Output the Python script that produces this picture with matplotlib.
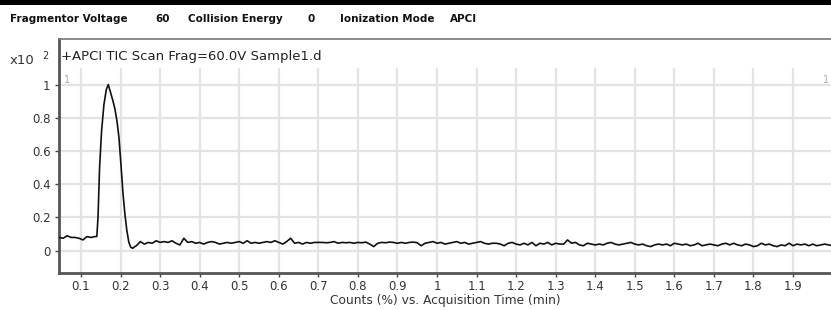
import numpy as np
import matplotlib
matplotlib.use("Agg")
import matplotlib.pyplot as plt
from matplotlib.patches import Rectangle

# --- data (counts x10^2 vs minutes) ---
peak_time = [0.045, 0.055, 0.065, 0.075, 0.085, 0.095, 0.105, 0.115, 0.125, 0.135,
             0.140, 0.143, 0.147, 0.152, 0.158, 0.164, 0.169, 0.175, 0.181, 0.186,
             0.191, 0.196, 0.201, 0.206, 0.211, 0.216, 0.221, 0.226, 0.231, 0.236]
peak_counts = [0.08, 0.075, 0.09, 0.08, 0.08, 0.075, 0.065, 0.085, 0.08, 0.085,
               0.086, 0.20, 0.50, 0.72, 0.88, 0.97, 1.00, 0.95, 0.90, 0.85,
               0.78, 0.68, 0.52, 0.35, 0.22, 0.12, 0.05, 0.02, 0.015, 0.025]

base_start, base_step = 0.24, 0.01
base_counts = [
    0.030, 0.055, 0.040, 0.050, 0.045, 0.060, 0.050, 0.055, 0.050, 0.060,   # 0.24-0.33
    0.045, 0.035, 0.075, 0.050, 0.055, 0.045, 0.050, 0.040, 0.050, 0.055,   # 0.34-0.43
    0.050, 0.040, 0.045, 0.050, 0.045, 0.050, 0.055, 0.045, 0.060, 0.045,   # 0.44-0.53
    0.050, 0.045, 0.050, 0.055, 0.050, 0.060, 0.050, 0.040, 0.055, 0.075,   # 0.54-0.63
    0.045, 0.050, 0.040, 0.050, 0.045, 0.050, 0.050, 0.050, 0.048, 0.050,   # 0.64-0.73
    0.055, 0.045, 0.050, 0.048, 0.050, 0.045, 0.050, 0.048, 0.052, 0.040,   # 0.74-0.83
    0.025, 0.045, 0.050, 0.048, 0.052, 0.050, 0.045, 0.050, 0.045, 0.050,   # 0.84-0.93
    0.052, 0.048, 0.030, 0.045, 0.050, 0.055, 0.045, 0.050, 0.040, 0.045,   # 0.94-1.03
    0.050, 0.055, 0.045, 0.050, 0.040, 0.045, 0.050, 0.055, 0.045, 0.040,   # 1.04-1.13
    0.045, 0.045, 0.040, 0.030, 0.045, 0.050, 0.040, 0.035, 0.045, 0.035,   # 1.14-1.23
    0.050, 0.030, 0.045, 0.040, 0.050, 0.035, 0.045, 0.040, 0.040, 0.065,   # 1.24-1.33
    0.045, 0.050, 0.035, 0.030, 0.045, 0.040, 0.035, 0.040, 0.035, 0.045,   # 1.34-1.43
    0.050, 0.040, 0.035, 0.040, 0.045, 0.050, 0.040, 0.035, 0.040, 0.030,   # 1.44-1.53
    0.025, 0.035, 0.040, 0.035, 0.040, 0.030, 0.045, 0.040, 0.035, 0.040,   # 1.54-1.63
    0.030, 0.035, 0.045, 0.030, 0.035, 0.040, 0.035, 0.030, 0.040, 0.045,   # 1.64-1.73
    0.035, 0.045, 0.035, 0.030, 0.040, 0.035, 0.025, 0.030, 0.045, 0.035,   # 1.74-1.83
    0.040, 0.030, 0.025, 0.035, 0.030, 0.045, 0.030, 0.040, 0.035, 0.040,   # 1.84-1.93
    0.030, 0.040, 0.030, 0.035, 0.040, 0.035, 0.030,                        # 1.94-2.00
]

x_ticks = [0.1, 0.2, 0.3, 0.4, 0.5, 0.6, 0.7, 0.8, 0.9, 1.0,
           1.1, 1.2, 1.3, 1.4, 1.5, 1.6, 1.7, 1.8, 1.9]
x_tick_labels = ["0.1", "0.2", "0.3", "0.4", "0.5", "0.6", "0.7", "0.8", "0.9", "1",
                 "1.1", "1.2", "1.3", "1.4", "1.5", "1.6", "1.7", "1.8", "1.9"]
y_ticks = [0, 0.2, 0.4, 0.6, 0.8, 1.0]
y_tick_labels = ["0", "0.2", "0.4", "0.6", "0.8", "1"]

header_items = [("Fragmentor Voltage", 10), ("60", 155), ("Collision Energy", 188),
                ("0", 308), ("Ionization Mode", 340), ("APCI", 450)]

time = np.concatenate([peak_time, base_start + base_step * np.arange(len(base_counts))])
counts = np.concatenate([peak_counts, base_counts])

W, H = 831, 310
plt.rcParams['font.family'] = ['DejaVu Sans']

fig = plt.figure(figsize=(W / 100, H / 100), dpi=100)

# thick bar along the top edge
fig.patches.append(Rectangle((0, 1 - 4.5 / H), 1, 4.5 / H, transform=fig.transFigure,
                             facecolor='black', edgecolor='none'))

for label, px in header_items:
    fig.text(px / W, 1 - 19 / H, label, fontsize=7.5, fontweight='bold',
             color='#111111', ha='left', va='center')

ax = fig.add_axes([59 / W, 37 / H, 1 - 59 / W, (273 - 37) / H - 0.006])
ax.set_xlim(0.0444, 1.996)
ax.set_ylim(-0.134, 1.275)

# grid: horizontal across, vertical stops below the title area
for yt in y_ticks:
    ax.axhline(yt, color='#e3e3e3', lw=1.6, zorder=0)
ax.vlines(x_ticks, -0.134, 1.10, color='#e3e3e3', lw=1.6, zorder=0)

ax.plot(time, counts, color='#111111', lw=1.2, zorder=3)

ax.set_xticks(x_ticks)
ax.set_xticklabels(x_tick_labels)
ax.set_yticks(y_ticks)
ax.set_yticklabels(y_tick_labels)
ax.tick_params(axis='both', direction='out', length=3, width=1, colors='#444444',
               labelsize=8.5, labelcolor='#333333', pad=3)
ax.tick_params(axis='x', pad=2)

for side in ['left', 'bottom']:
    ax.spines[side].set_color('#555555')
    ax.spines[side].set_linewidth(2)
ax.spines['top'].set_color('#777777')
ax.spines['top'].set_linewidth(1.2)
ax.spines['right'].set_visible(False)

ax.set_xlabel("Counts (%) vs. Acquisition Time (min)", fontsize=8.8,
              color='#333333', labelpad=0.5)

ax.text(0.003, 0.923, "+APCI TIC Scan Frag=60.0V Sample1.d", transform=ax.transAxes,
        fontsize=9.5, color='#222222', ha='left', va='center')
ax.text(0.006, 0.825, "1", transform=ax.transAxes, fontsize=7, color='#aaaaaa',
        ha='left', va='center')
ax.text(0.997, 0.825, "1", transform=ax.transAxes, fontsize=7, color='#aaaaaa',
        ha='right', va='center')

fig.text(10 / W, 1 - 60 / H, "x10", fontsize=9.5, color='#333333', ha='left', va='center')
fig.text(42 / W, 1 - 56 / H, "2", fontsize=7, color='#333333', ha='left', va='center')

fig.savefig("out.png", dpi=100)
